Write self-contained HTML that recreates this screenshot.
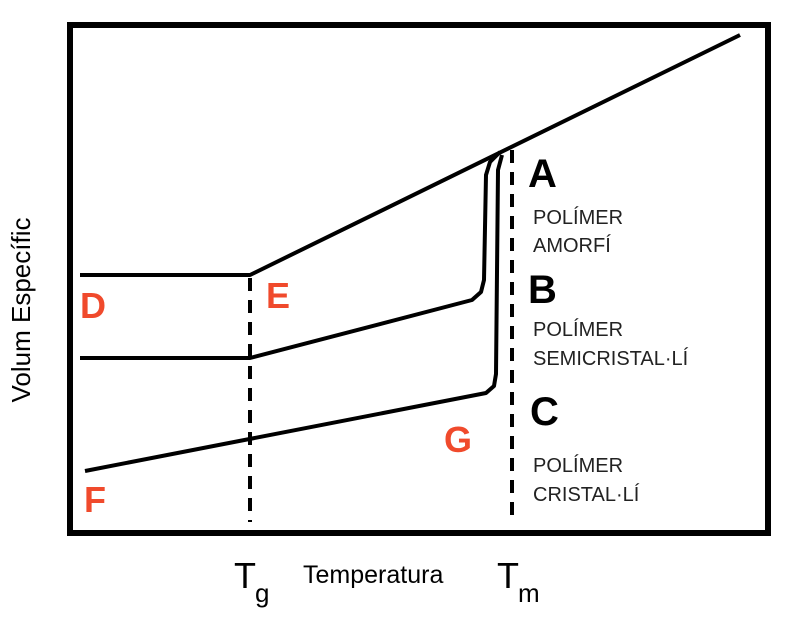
<!DOCTYPE html>
<html><head><meta charset="utf-8"><style>
html,body{margin:0;padding:0;background:#fff;}
svg{display:block;}
</style></head><body>
<svg width="786" height="625" viewBox="0 0 786 625" xmlns="http://www.w3.org/2000/svg">
<rect x="70" y="25" width="698" height="508" fill="none" stroke="#000" stroke-width="6"/>
<g stroke="#000" stroke-width="4" fill="none" stroke-linejoin="round">
<polyline points="80,275 250,275 740,35"/>
<polyline points="80,358 250,358 472,300 481,292 484,280 486,175 490,162 500,152"/>
<polyline points="85,471 486,393 494,386 496,374 498,170 502,155"/>
</g>
<g stroke="#000" stroke-width="4" stroke-dasharray="13,9">
<line x1="250" y1="278" x2="250" y2="522"/>
<line x1="512" y1="150" x2="512" y2="516"/>
</g>
<g font-family="Liberation Sans, sans-serif" font-weight="bold" fill="#f04a2c" font-size="36">
<text x="80" y="318">D</text>
<text x="266" y="308">E</text>
<text x="84" y="512">F</text>
<text x="444" y="452">G</text>
</g>
<g font-family="Liberation Sans, sans-serif" font-weight="bold" fill="#000" font-size="40">
<text x="528" y="187">A</text>
<text x="528" y="303">B</text>
<text x="530" y="425">C</text>
</g>
<g font-family="Liberation Sans, sans-serif" fill="#222" font-size="20">
<text x="533" y="224">POLÍMER</text>
<text x="533" y="252">AMORFÍ</text>
<text x="533" y="336">POLÍMER</text>
<text x="533" y="365">SEMICRISTAL·LÍ</text>
<text x="533" y="472">POLÍMER</text>
<text x="533" y="501">CRISTAL·LÍ</text>
</g>
<g font-family="Liberation Sans, sans-serif" fill="#000">
<text x="30" y="310" font-size="26" text-anchor="middle" transform="rotate(-90 30 310)">Volum Específic</text>
<text x="234" y="588" font-size="36">T</text>
<text x="255" y="602" font-size="26">g</text>
<text x="303" y="583" font-size="25">Temperatura</text>
<text x="497" y="588" font-size="36">T</text>
<text x="518" y="602" font-size="26">m</text>
</g>
</svg>
</body></html>
